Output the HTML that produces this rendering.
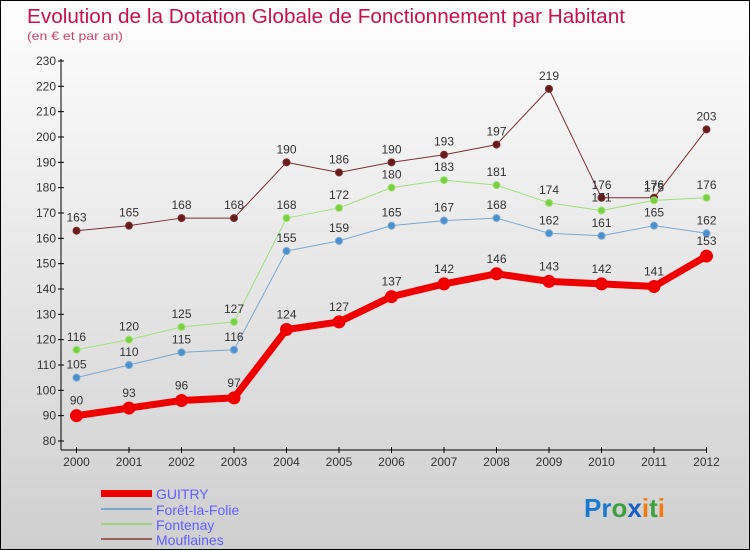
<!DOCTYPE html>
<html><head><meta charset="utf-8"><style>
body{margin:0}
#c{position:relative;width:750px;height:550px;box-sizing:border-box;border:1px solid #000;background:linear-gradient(#fefefe,#cfcfcf);font-family:"Liberation Sans",sans-serif;overflow:hidden}
</style></head><body>
<div id="c">
<svg width="750" height="550" style="position:absolute;left:0;top:0" id="svg">
<text x="26" y="22" font-size="20" fill="#c8104a" textLength="598" lengthAdjust="spacingAndGlyphs">Evolution de la Dotation Globale de Fonctionnement par Habitant</text>
<text x="26" y="39" font-size="12" fill="#d0406a" textLength="96" lengthAdjust="spacingAndGlyphs">(en € et par an)</text>
<g id="axes"></g><g id="series"></g>
<g>
<rect x="100" y="489" width="51" height="7" fill="#e00"/>
<text x="155" y="498" font-size="14" fill="#6060ff">GUITRY</text>
<rect x="100" y="507" width="51" height="2" fill="#7aa8d0"/>
<text x="155" y="514" font-size="14" fill="#6060ff">Forêt-la-Folie</text>
<rect x="100" y="522" width="51" height="2" fill="#9fd07a"/>
<text x="155" y="529" font-size="14" fill="#6060ff">Fontenay</text>
<rect x="100" y="537" width="51" height="2" fill="#9a6060"/>
<text x="155" y="544" font-size="14" fill="#6060ff">Mouflaines</text>
</g>
<text x="583" y="516" font-size="26" font-weight="bold"><tspan fill="#1a7ad0">Pr</tspan><tspan fill="#40a040">o</tspan><tspan fill="#1a60c0">x</tspan><tspan fill="#f07a10">i</tspan><tspan fill="#40a040">t</tspan><tspan fill="#f07a10">i</tspan></text>
</svg>
</div>
<script>
const years=[2000,2001,2002,2003,2004,2005,2006,2007,2008,2009,2010,2011,2012];
const yTicks=[80,90,100,110,120,130,140,150,160,170,180,190,200,210,220,230];
const guitry=[90,93,96,97,124,127,137,142,146,143,142,141,153];
const foret=[105,110,115,116,155,159,165,167,168,162,161,165,162];
const fontenay=[116,120,125,127,168,172,180,183,181,174,171,175,176];
const mouflaines=[163,165,168,168,190,186,190,193,197,219,176,176,203];
const NS="http://www.w3.org/2000/svg";
const x=i=>75.5+i*(705.5-75.5)/12;
const y=v=>440-(v-80)*(440-60)/150;
function mk(t,a,p){const e=document.createElementNS(NS,t);for(const k in a)e.setAttribute(k,a[k]);p.appendChild(e);return e;}
const ax=document.getElementById('axes');
let l=mk('line',{x1:60,y1:58,x2:60,y2:449,stroke:'#000'},ax);


l=mk('line',{x1:60,y1:449,x2:706,y2:449,stroke:'#000'},ax);


yTicks.forEach(v=>{mk('line',{x1:57,x2:63,y1:y(v),y2:y(v),stroke:'#000'},ax);
const t=mk('text',{x:55,y:y(v)+4,'font-size':12,fill:'#333','text-anchor':'end'},ax);t.textContent=v;

});
years.forEach((yr,i)=>{mk('line',{x1:x(i),x2:x(i),y1:446,y2:452,stroke:'#000'},ax);
const t=mk('text',{x:x(i),y:465,'font-size':12,fill:'#333','text-anchor':'middle'},ax);t.textContent=yr;

});
const sg=document.getElementById('series');
function series(d,name,color,dot,w,r,lbl){
const g=mk('g',{},sg);


const pl=mk('polyline',{points:d.map((v,i)=>x(i)+','+y(v)).join(' '),fill:'none',stroke:color,'stroke-width':w,'stroke-linejoin':'round'},g);


d.forEach((v,i)=>{const c=mk('circle',{cx:x(i),cy:y(v),r:r,fill:dot,stroke:color,'stroke-width':1},g);


const t=mk('text',{x:x(i),y:y(v)-lbl,'font-size':12,fill:'#333','text-anchor':'middle'},g);t.textContent=v;

});
}
series(mouflaines,'mouflaines','#7a3030','#6a1a1a',1,3.5,9);
series(fontenay,'fontenay','#9fe07a','#7ad040',1,3.5,9);
series(foret,'foret','#7aa8d0','#4a90d0',1,3.5,9);
series(guitry,'guitry','#ee0000','#ee0000',7,6,11);
</script>
</body></html>
